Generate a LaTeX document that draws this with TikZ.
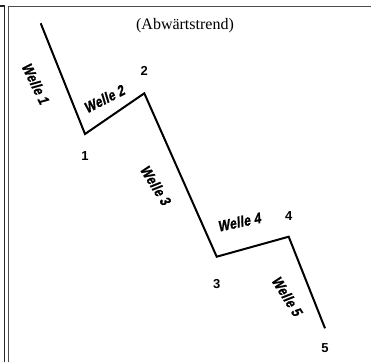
\documentclass[tikz,border=0pt]{standalone}
\usepackage{fontspec}
\setmainfont{Liberation Serif}
\newfontfamily\wavefont{Liberation Sans}
\newfontfamily\waveslant[FakeSlant=0.22,FakeBold=1.2,LetterSpace=2]{Liberation Sans}
\begin{document}
\begin{tikzpicture}[x=1pt,y=-1pt,
  wave/.style={line width=2pt,line join=miter},
  frame/.style={draw=black!70,line width=1.2pt},
  num/.style={font=\wavefont\fontsize{13}{15}\selectfont\bfseries,inner sep=0pt},
  wlabel/.style={font=\waveslant\fontsize{15}{17}\selectfont\bfseries,inner sep=0pt}]
\useasboundingbox (0,0) rectangle (371,362);
% frame lines
\draw[frame,draw=black!85] (0,6) -- (4.3,6) -- (4.3,362);
\draw[frame] (8.5,362) -- (8.5,6.5) -- (371,6.5);
% title
\node[font=\fontsize{16}{18}\selectfont,inner sep=0pt] (title) at (185,26) {(Abwärtstrend)};
% wave points
\coordinate (s) at (40.7,23.3);
\coordinate (p1) at (85,134);
\coordinate (p2) at (144.3,93.3);
\coordinate (p3) at (216.7,256.7);
\coordinate (p4) at (288.7,236.7);
\coordinate (p5) at (325,328.3);
\draw[wave] (s) -- (p1) -- (p2) -- (p3) -- (p4) -- (p5);
% numbers
\node[num] (n1) at (85,156) {1};
\node[num] (n2) at (144.3,70.7) {2};
\node[num] (n3) at (216.7,284) {3};
\node[num] (n4) at (288.7,216) {4};
\node[num] (n5) at (325,348.3) {5};
% wave labels
\node[wlabel,rotate=-64] (w1) at (35.5,83.3) {\scalebox{0.82}[1]{Welle 1}};
\node[wlabel,rotate=27] (w2) at (104,99) {\scalebox{0.82}[1]{Welle 2}};
\node[wlabel,rotate=-58] (w3) at (155.5,185) {\scalebox{0.82}[1]{Welle 3}};
\node[wlabel,rotate=12] (w4) at (239,222) {\scalebox{0.82}[1]{Welle 4}};
\node[wlabel,rotate=-58] (w5) at (287,296) {\scalebox{0.82}[1]{Welle 5}};
\end{tikzpicture}
\end{document}
